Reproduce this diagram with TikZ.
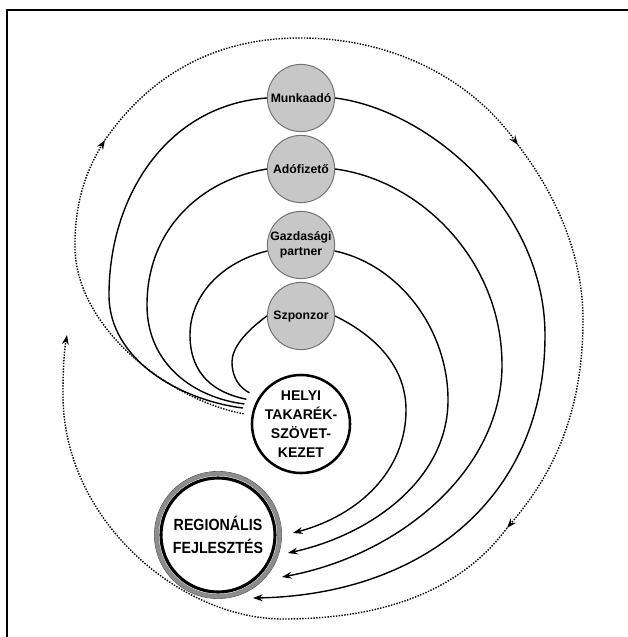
\documentclass[tikz,border=0pt]{standalone}
\usepackage{fontspec}
\setmainfont{Liberation Sans}
\newfontfamily\szukfont{Liberation Sans}[FakeStretch=0.88]
\usetikzlibrary{arrows.meta}

\tikzset{
  szereplo/.style={circle, draw=black!55, fill=black!22, line width=0.7pt,
    minimum size=1.68cm, inner sep=0pt, align=center,
    font=\fontsize{8.7}{11}\selectfont\bfseries},
  spiral/.style={line width=1pt},
  pontozott/.style={line width=1pt, densely dotted},
  nyil/.style={-{Stealth[length=2.4mm,width=1.7mm]}},
}

\begin{document}
\begin{tikzpicture}[x=0.025cm, y=-0.025cm]
	%%%%% START %%%%%
	\useasboundingbox (0,0) rectangle (628,637);
	
	% keret
	\draw[line width=0.9pt] (7,637) -- (7,10) -- (628,10);
	
	\node[szereplo] (munka) at (301,98) {Munkaadó};
	\node[szereplo] (ado) at (301,169) {Adófizető};
	\node[szereplo] (gazd) at (301,245) {Gazdasági\\partner};
	\node[szereplo] (szponz) at (301,316) {Szponzor};
	
	\node[circle, draw, fill=white, line width=1.8pt, minimum size=2.3cm, inner sep=0pt,
		align=center, font=\fontsize{10}{13.5}\selectfont\bfseries]
		(helyi) at (301,424) {HELYI\\TAKARÉK-\\SZÖVET-\\KEZET};
	
	\node[circle, draw, fill=white, line width=2.2pt, minimum size=2.85cm, inner sep=0pt,
		align=center, font=\szukfont\fontsize{11.5}{16}\selectfont\bfseries]
		(reg) at (218,535) {REGIONÁLIS\\FEJLESZTÉS};
	\draw[black!45, line width=3pt] (reg.center) circle (1.53cm);
	\draw[black!70, line width=0.4pt] (reg.center) circle (1.59cm);
	
	\coordinate (be1) at (293,533);
	\coordinate (be2) at (288,553);
	\coordinate (be3) at (282,577);
	\coordinate (be4) at (253,598);
	
	% bal oldali ivek
	\draw[spiral, shorten >=0.25cm] (munka.west) .. controls (168,105) and (109,195) .. (109,295)
		.. controls (109,360) and (180,400) .. (helyi.163);
	\draw[spiral, shorten >=0.25cm] (ado.west) .. controls (200,180) and (147,230) .. (147,305)
		.. controls (147,365) and (195,398) .. (helyi.158);
	\draw[spiral, shorten >=0.25cm] (gazd.190) .. controls (222,262) and (190,295) .. (190,335)
		.. controls (190,375) and (215,393) .. (helyi.153);
	\draw[spiral, shorten >=0.25cm] (szponz.west) .. controls (245,332) and (232,348) .. (232,362)
		.. controls (232,378) and (240,388) .. (helyi.148);
	
	% jobb oldali ivek
	\draw[spiral, nyil] (munka.east) .. controls (430,110) and (545,210) .. (545,335)
		.. controls (545,500) and (420,595) .. (be4);
	\draw[spiral, nyil] (ado.east) .. controls (420,180) and (502,260) .. (502,365)
		.. controls (502,470) and (400,555) .. (be3);
	\draw[spiral, nyil] (gazd.-10) .. controls (400,265) and (448,330) .. (448,400)
		.. controls (448,480) and (370,535) .. (be2);
	\draw[spiral, nyil] (szponz.east) .. controls (380,338) and (406,370) .. (406,410)
		.. controls (406,470) and (360,515) .. (be1);
	
	% kulso pontozott spiral
	\coordinate (p1) at (105,140);
	\coordinate (p2) at (518,145);
	\coordinate (p3) at (507,528);
	\coordinate (p4) at (67,335);
	\draw[pontozott, nyil, shorten <=0.2cm] (helyi.170) .. controls (170,400) and (78,330) .. (75,250)
		.. controls (74,200) and (88,168) .. (p1);
	\draw[pontozott, nyil] (p1) .. controls (150,75) and (215,38) .. (300,38)
		.. controls (400,38) and (475,85) .. (p2);
	\draw[pontozott, nyil] (p2) .. controls (560,200) and (583,260) .. (583,320)
		.. controls (583,420) and (548,480) .. (p3);
	\draw[pontozott, nyil] (p3) .. controls (455,598) and (370,619) .. (283,619)
		.. controls (180,619) and (63,520) .. (63,395) .. controls (63,370) and (64,352) .. (p4);
	
	%%%%% END %%%%%
\end{tikzpicture}
\end{document}
